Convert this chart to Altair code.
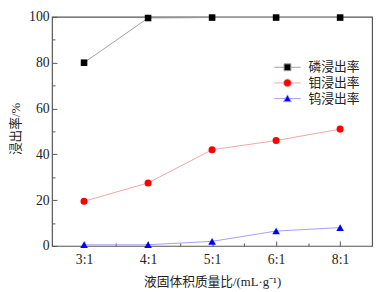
import json
import altair as alt
import pandas as pd

cats = ["3:1", "4:1", "5:1", "6:1", "8:1"]
p_rate = [80.0, 99.5, 99.7, 99.7, 99.7]
mo_rate = [19.5, 27.5, 42.0, 46.0, 51.0]
w_rate = [0.5, 0.5, 2.0, 6.5, 8.0]
series = ["磷浸出率", "钼浸出率", "钨浸出率"]
line_colors = ["#a0a0a0", "#f2a4a4", "#a0a0ee"]
mark_colors = ["#000000", "#ff0000", "#0000ff"]
shapes = ["square", "circle", "triangle-up"]
# legend glyphs: short line through a marker (unit = marker half-size)
legend_glyphs = [
    "M-3.86,0H-1M1,0H3.86M-1,-1H1V1H-1Z",
    "M-3.86,0H-1.14M1.14,0H3.86M1.14,0A1.14,1.14 0 1 1 -1.14,0A1.14,1.14 0 1 1 1.14,0Z",
    "M-3.86,0H-0.63M0.63,0H3.86M-1.14,0.9L0,-1.1L1.14,0.9Z",
]

rows = []
for s, vals in zip(series, [p_rate, mo_rate, w_rate]):
    for i, (c, v) in enumerate(zip(cats, vals)):
        rows.append({"series": s, "idx": i, "cat": c, "value": v})
df = pd.DataFrame(rows)

FONT = "Liberation Serif, Noto Sans CJK SC"
W, H = 327, 234
label_expr = json.dumps(cats) + "[round(datum.value)]"

xscale = alt.Scale(domain=[-0.5, 4.5], nice=False, zero=False)
yscale = alt.Scale(domain=[0, 100], nice=False)

base = alt.Chart(df)

lines = base.mark_line(strokeWidth=1).encode(
    x=alt.X("idx:Q", scale=xscale,
            axis=alt.Axis(values=[0, 1, 2, 3, 4], labelExpr=label_expr, ticks=False, domain=False,
                          grid=False, labelPadding=7, labelFontSize=14, labelFont=FONT,
                          labelColor="#222", title="液固体积质量比/(mL·g⁻¹)", titleFont=FONT,
                          titleFontSize=13, titleFontWeight="normal", titleColor="#222",
                          titlePadding=9)),
    y=alt.Y("value:Q", scale=yscale,
            axis=alt.Axis(values=[0, 20, 40, 60, 80, 100], ticks=False, domain=False, grid=False,
                          labelPadding=3, labelFontSize=14, labelFont=FONT, labelColor="#222",
                          title="浸出率/%", titleFont=FONT, titleFontSize=13,
                          titleFontWeight="normal", titleColor="#222", titleX=-37, titleY=114,
                          titleAlign="center", titleBaseline="middle")),
    stroke=alt.Stroke("series:N", sort=series,
                      scale=alt.Scale(domain=series, range=line_colors), legend=None),
    order="idx:Q",
)

points = base.mark_point(filled=True, opacity=1, strokeWidth=0).encode(
    x=alt.X("idx:Q", scale=xscale,
            axis=alt.Axis(orient="top", offset=-H, values=[0, 1, 2, 3, 4], labels=False,
                          domain=False, grid=False, tickSize=5, tickColor="#555", title=None)),
    y=alt.Y("value:Q", scale=yscale,
            axis=alt.Axis(orient="right", offset=-W, values=[0, 20, 40, 60, 80, 100],
                          labels=False, domain=False, grid=False, tickSize=5,
                          tickColor="#555", title=None)),
    fill=alt.Fill("series:N", sort=series,
                  scale=alt.Scale(domain=series, range=mark_colors), legend=None),
    shape=alt.Shape("series:N", sort=series,
                    scale=alt.Scale(domain=series, range=shapes), legend=None),
    size=alt.Size("series:N", sort=series,
                  scale=alt.Scale(domain=series, range=[45, 60, 50]), legend=None),
)

minor = base.mark_point(opacity=0).encode(
    x=alt.X("idx:Q", scale=xscale,
            axis=alt.Axis(orient="top", offset=-H, values=[-0.5, 0.5, 1.5, 2.5, 3.5],
                          labels=False, domain=False, grid=False, tickSize=3,
                          tickColor="#555", title=None)),
    y=alt.Y("value:Q", scale=yscale,
            axis=alt.Axis(orient="right", offset=-W, values=[10, 30, 50, 70, 90],
                          labels=False, domain=False, grid=False, tickSize=3,
                          tickColor="#555", title=None)),
)

leg = alt.Legend(title=None, orient="none", legendX=234, legendY=45,
                 symbolSize=49, symbolStrokeWidth=1, symbolOpacity=1,
                 labelFont=FONT, labelFontSize=13, labelColor="#222",
                 labelOffset=15, rowPadding=2, padding=0)

legend_layer = base.transform_filter("false").mark_point(
    filled=True, opacity=1, strokeWidth=1
).encode(
    x=alt.X("idx:Q", scale=xscale, axis=None),
    y=alt.Y("value:Q", scale=yscale, axis=None),
    fill=alt.Fill("series:N", sort=series,
                  scale=alt.Scale(domain=series, range=mark_colors), legend=leg),
    stroke=alt.Stroke("series:N", sort=series,
                      scale=alt.Scale(domain=series, range=line_colors), legend=leg),
    shape=alt.Shape("series:N", sort=series,
                    scale=alt.Scale(domain=series, range=legend_glyphs), legend=leg),
    size=alt.value(49),
)

chart = alt.layer(lines, minor, points, legend_layer).resolve_axis(
    x="independent", y="independent"
).resolve_scale(
    shape="independent", fill="independent", stroke="independent"
).properties(
    width=W, height=H,
    autosize=alt.AutoSizeParams(type="none"),
    padding={"left": 45, "top": 6, "right": 6, "bottom": 44},
).configure_view(stroke="#555", strokeWidth=1.2).configure_legend(symbolLimit=0)

chart.save("out.html", embed_options={"renderer": "svg", "actions": False})
